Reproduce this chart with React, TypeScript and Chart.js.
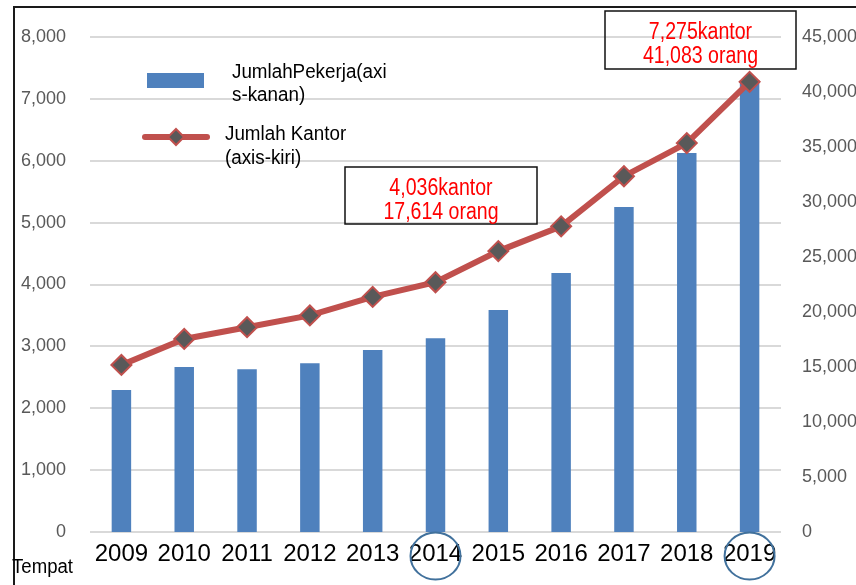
import React, { useEffect, useRef } from 'react';
import { Chart, registerables } from 'chart.js';

Chart.register(...registerables);

const years = ['2009', '2010', '2011', '2012', '2013', '2014', '2015', '2016', '2017', '2018', '2019'];
const jumlahKantor = [2700, 3120, 3310, 3500, 3800, 4036, 4540, 4940, 5750, 6285, 7275];
const jumlahPekerja = [12900, 15000, 14800, 15350, 16550, 17614, 20180, 23550, 29550, 34450, 41083];
const leftAxisMax = 8000;
const leftAxisStep = 1000;
const rightAxisMax = 45000;
const rightAxisStep = 5000;
const legendPekerja = ['JumlahPekerja(axi', 's-kanan)'];
const legendKantor = ['Jumlah Kantor', '(axis-kiri)'];
const note2014 = ['4,036kantor', '17,614 orang'];
const note2019 = ['7,275kantor', '41,083 orang'];
const circledYears = ['2014', '2019'];
const cornerLabel = 'Tempat';

const FONT = "'Liberation Sans', Arial, sans-serif";
const BAR_COLOR = '#4F81BD';
const LINE_COLOR = '#C0504D';
const MARKER_FILL = '#595959';

const fmt = (v: number) => Number(v).toLocaleString('en-US');

const overlayPlugin = {
  id: 'overlay',
  afterDraw(chart: any) {
    const ctx: CanvasRenderingContext2D = chart.ctx;
    const xScale = chart.scales.x;
    ctx.save();

    const scaledText = (t: string, x: number, y: number, sx: number) => {
      ctx.save();
      ctx.translate(x, y);
      ctx.scale(sx, 1);
      ctx.fillText(t, 0, 0);
      ctx.restore();
    };

    // Legend
    ctx.fillStyle = BAR_COLOR;
    ctx.fillRect(147, 73, 57, 15);
    ctx.strokeStyle = LINE_COLOR;
    ctx.lineWidth = 6;
    ctx.lineCap = 'round';
    ctx.beginPath();
    ctx.moveTo(145, 137);
    ctx.lineTo(207, 137);
    ctx.stroke();
    ctx.beginPath();
    ctx.moveTo(176, 129);
    ctx.lineTo(184, 137);
    ctx.lineTo(176, 145);
    ctx.lineTo(168, 137);
    ctx.closePath();
    ctx.fillStyle = MARKER_FILL;
    ctx.fill();
    ctx.lineWidth = 2;
    ctx.strokeStyle = LINE_COLOR;
    ctx.stroke();

    ctx.fillStyle = '#000';
    ctx.font = `20px ${FONT}`;
    ctx.textAlign = 'left';
    ctx.textBaseline = 'middle';
    scaledText(legendPekerja[0], 232, 72, 0.94);
    scaledText(legendPekerja[1], 232, 95, 0.94);
    scaledText(legendKantor[0], 225, 134, 0.94);
    scaledText(legendKantor[1], 225, 158, 0.94);

    // Annotation boxes
    const drawNote = (lines: string[], x0: number, y0: number, x1: number, y1: number, ly: number[]) => {
      ctx.lineWidth = 1.5;
      ctx.strokeStyle = '#111';
      ctx.strokeRect(x0, y0, x1 - x0, y1 - y0);
      ctx.fillStyle = '#FF0000';
      ctx.font = `23px ${FONT}`;
      ctx.textAlign = 'center';
      ctx.textBaseline = 'middle';
      const cx = (x0 + x1) / 2;
      lines.forEach((t, i) => scaledText(t, cx, ly[i], 0.85));
    };
    drawNote(note2014, 345, 167, 537, 224, [189, 213]);
    drawNote(note2019, 605, 11, 796, 69, [33, 57]);

    // Circles around years
    ctx.strokeStyle = '#41719C';
    ctx.lineWidth = 2;
    circledYears.forEach((y) => {
      const idx = years.indexOf(y);
      const cx = xScale.getPixelForValue(idx);
      ctx.beginPath();
      ctx.ellipse(cx, 556, 25, 23.5, 0, 0, Math.PI * 2);
      ctx.stroke();
    });

    // Frame
    ctx.strokeStyle = '#1a1a1a';
    ctx.lineWidth = 2;
    ctx.lineCap = 'butt';
    ctx.beginPath();
    ctx.moveTo(14, 585);
    ctx.lineTo(14, 7);
    ctx.lineTo(856, 7);
    ctx.stroke();

    // Corner label
    ctx.fillStyle = '#000';
    ctx.font = `20px ${FONT}`;
    ctx.textAlign = 'left';
    ctx.textBaseline = 'alphabetic';
    scaledText(cornerLabel, 12, 573, 0.93);

    ctx.restore();
  },
};

export default function App() {
  const ref = useRef<HTMLCanvasElement | null>(null);

  useEffect(() => {
    if (!ref.current) return;
    const chart = new Chart(ref.current, {
      type: 'bar',
      data: {
        labels: years,
        datasets: [
          {
            type: 'line',
            label: 'Jumlah Kantor (axis-kiri)',
            data: jumlahKantor,
            yAxisID: 'yL',
            order: 0,
            borderColor: LINE_COLOR,
            borderWidth: 6,
            tension: 0,
            pointStyle: 'rectRot',
            pointRadius: 10,
            pointHoverRadius: 10,
            pointBackgroundColor: MARKER_FILL,
            pointBorderColor: LINE_COLOR,
            pointBorderWidth: 2,
          } as any,
          {
            type: 'bar',
            label: 'JumlahPekerja(axis-kanan)',
            data: jumlahPekerja,
            yAxisID: 'yR',
            order: 1,
            backgroundColor: BAR_COLOR,
            categoryPercentage: 1,
            barPercentage: 0.31,
          },
        ],
      },
      options: {
        animation: false,
        responsive: false,
        maintainAspectRatio: false,
        layout: { padding: { top: 37, left: 0, right: 0, bottom: 0 } },
        plugins: {
          legend: { display: false },
          tooltip: { enabled: false },
          title: { display: false },
        },
        scales: {
          x: {
            grid: { display: false, drawTicks: false },
            border: { display: false },
            ticks: {
              color: '#000',
              font: { family: FONT, size: 24 },
              padding: 8,
              maxRotation: 0,
              autoSkip: false,
            },
            afterFit: (s: any) => {
              s.height = 53;
            },
          },
          yL: {
            position: 'left',
            min: 0,
            max: leftAxisMax,
            grid: { color: '#D9D9D9', lineWidth: 2, drawTicks: false },
            border: { display: false },
            ticks: {
              stepSize: leftAxisStep,
              color: '#595959',
              font: { family: FONT, size: 18 },
              padding: 24,
              callback: (v: any) => fmt(v),
            },
            afterFit: (s: any) => {
              s.width = 90;
            },
          },
          yR: {
            position: 'right',
            min: 0,
            max: rightAxisMax,
            grid: { display: false, drawTicks: false },
            border: { display: false },
            ticks: {
              stepSize: rightAxisStep,
              color: '#595959',
              font: { family: FONT, size: 18 },
              padding: 21,
              callback: (v: any) => fmt(v),
            },
            afterFit: (s: any) => {
              s.width = 75;
            },
          },
        },
      },
      plugins: [overlayPlugin],
    });
    return () => chart.destroy();
  }, []);

  return (
    <div style={{ position: 'absolute', left: 0, top: 0, width: 856, height: 585, background: '#fff' }}>
      <canvas ref={ref} width={856} height={585} style={{ width: 856, height: 585, display: 'block' }} />
    </div>
  );
}
